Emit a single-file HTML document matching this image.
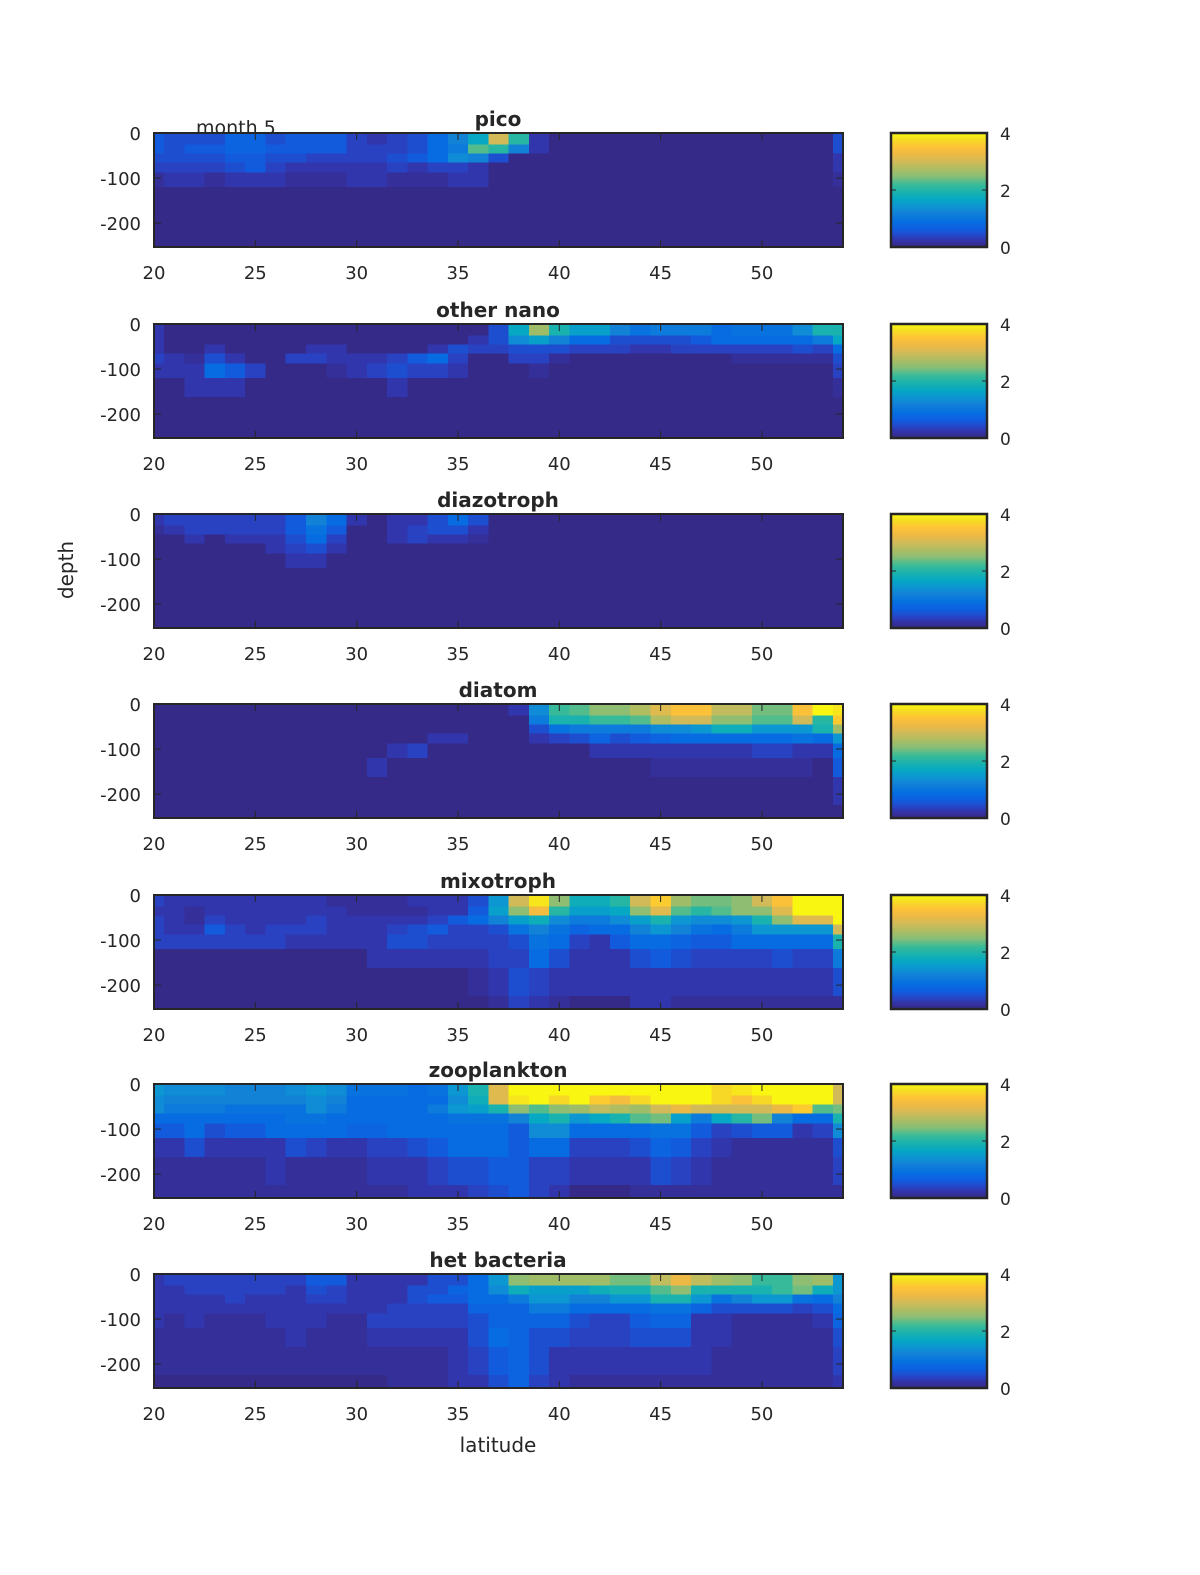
<!DOCTYPE html>
<html><head><meta charset="utf-8"><title>month 5 plankton sections</title>
<style>
html,body{margin:0;padding:0;background:#fff;}
svg{display:block;}
text{font-family:"DejaVu Sans","Liberation Sans",sans-serif;fill:#262626;}
</style></head>
<body>
<svg id="fig" width="1200" height="1575" viewBox="0 0 1200 1575" xmlns="http://www.w3.org/2000/svg">
<defs>
<linearGradient id="parula" x1="0" y1="1" x2="0" y2="0">
<stop offset="0" stop-color="rgb(53,42,135)"/>
<stop offset="0.05" stop-color="rgb(52,50,165)"/>
<stop offset="0.10" stop-color="rgb(38,70,200)"/>
<stop offset="0.16" stop-color="rgb(15,95,225)"/>
<stop offset="0.22" stop-color="rgb(5,110,225)"/>
<stop offset="0.30" stop-color="rgb(18,130,215)"/>
<stop offset="0.36" stop-color="rgb(12,150,210)"/>
<stop offset="0.42" stop-color="rgb(6,168,195)"/>
<stop offset="0.48" stop-color="rgb(25,178,175)"/>
<stop offset="0.55" stop-color="rgb(60,187,150)"/>
<stop offset="0.62" stop-color="rgb(137,190,118)"/>
<stop offset="0.69" stop-color="rgb(176,189,96)"/>
<stop offset="0.75" stop-color="rgb(210,186,89)"/>
<stop offset="0.81" stop-color="rgb(236,185,69)"/>
<stop offset="0.88" stop-color="rgb(254,195,55)"/>
<stop offset="0.94" stop-color="rgb(246,220,35)"/>
<stop offset="1" stop-color="rgb(249,251,14)"/>
</linearGradient>
</defs>
<text x="196" y="134" font-size="19">month 5</text>
<text transform="translate(73,570) rotate(-90)" text-anchor="middle" font-size="20">depth</text>
<text x="498" y="1452" text-anchor="middle" font-size="20">latitude</text>
</svg>
<script>
// ---- data (values: base-36 char * 0.12) ----
const latitudes = [20,21,22,23,24,25,26,27,28,29,30,31,32,33,34,35,36,37,38,39,40,41,42,43,44,45,46,47,48,49,50,51,52,53,54];
const depthEdges = [0,25,45,66,88,120,162,224,253];
const xTicks = [20,25,30,35,40,45,50];
const yTicks = [0,-100,-200];
const cbTicks = [0,2,4];
const panelTitles = ["pico","other nano","diazotroph","diatom","mixotroph","zooplankton","het bacteria"];
const picoRows = [
"54446 64555 32347 aeph2 00000 00000 00004",
"54556 65555 33347 9jha2 00000 00000 00004",
"44445 54433 33457 ba400 00000 00000 00002",
"33334 53222 22323 32000 00000 00000 00002",
"12212 22111 22111 22000 00000 00000 00001",
"00000 00000 00000 00000 00000 00000 00000",
"00000 00000 00000 00000 00000 00000 00000",
"00000 00000 00000 00000 00000 00000 00000"];
const nanoRows = [
"20000 00000 00000 004em gdda8 99978 88bgg",
"20000 00000 00000 024bd a7744 44577 7779e",
"20020 00022 00002 43344 43332 23333 33437",
"32142 00332 22357 30033 10000 00001 11114",
"22275 30001 23433 20001 00000 00000 00003",
"00222 00000 00200 00000 00000 00000 00001",
"00000 00000 00000 00000 00000 00000 00000",
"00000 00000 00000 00000 00000 00000 00000"];
const diazoRows = [
"23333 335a7 20224 74000 00000 00000 00000",
"12333 33585 00234 42000 00000 00000 00000",
"00202 22473 00232 21000 00000 00000 00000",
"00000 02342 00000 00000 00000 00000 00000",
"00000 00220 00000 00000 00000 00000 00000",
"00000 00000 00000 00000 00000 00000 00000",
"00000 00000 00000 00000 00000 00000 00000",
"00000 00000 00000 00000 00000 00000 00000"];
const diatomRows = [
"00000 00000 00000 0002b ijlln qttoo kktxw",
"00000 00000 00000 00009 ggiij nppll jjphu",
"00000 00000 00000 00004 89999 bbcff cccgm",
"00000 00000 00002 20002 34645 67777 7787c",
"00000 00000 00230 00000 00222 22222 33227",
"00000 00000 02000 00000 00000 11111 11105",
"00000 00000 00000 00000 00000 00000 00002",
"00000 00000 00000 00000 00000 00000 00000"];
const mixoRows = [
"32222 22221 11122 24cpw lffhp umkkl ptxxx",
"22122 22222 11112 25dls hddel qjhjl lqxxx",
"32132 22232 22223 57adf b99bd gcbbc glqqx",
"32253 23332 22345 3348a 8677a ca879 ccccp",
"33333 33222 22443 33348 73257 76557 7777g",
"00000 00000 02222 22337 42224 54333 34339",
"00000 00000 00000 01243 22222 22222 22224",
"00000 00000 00000 00132 10002 21111 11111"];
const zooRows = [
"cbbba aabcb 88878 cgqxx xxxxx xxxvw xxxxp",
"baaaa aaaba 77777 bfqwx vxusv xxxvt vxxxp",
"b9998 888b9 77779 cdglj lmonm prppp prujk",
"77777 77887 77777 888ae gcegj kd9eh ka77g",
"55745 57777 66777 7775b b7777 88534 5523b",
"22422 22432 23345 77757 73334 65321 11114",
"11111 12111 12223 44553 32222 43211 11113",
"11111 11111 11122 23453 20001 11111 11111"];
const hetRows = [
"23333 33355 22224 47clm mmmkk oroml iilmc",
"22333 33243 22244 67bfd ddfgg jlggg gikfc",
"22223 22233 22245 5779c caacc ggc8a cc87a",
"22222 22222 22333 36669 97777 88644 44347",
"21211 12221 13333 34666 64335 66221 11126",
"11111 11211 12222 24764 43334 44221 11114",
"11111 11111 11111 23564 22222 22211 11113",
"00000 00000 00111 22463 21111 11111 11112"];
const panelRowStrings = [picoRows, nanoRows, diazoRows, diatomRows, mixoRows, zooRows, hetRows];
const panelValues = panelRowStrings.map(rows => rows.map(s => s.replace(/ /g,'').split('').map(c => parseInt(c,36)*0.12)));

// ---- layout ----
const NS = "http://www.w3.org/2000/svg";
const svg = document.getElementById('fig');
const AX_L = 154, AX_R = 843, AX_H = 114;
const panelTops = [133,324,514,704,895,1084,1274];
const CB_L = 891, CB_R = 987;
const LAT_MIN = 20, LAT_MAX = 54, DEP_MAX = 253, VMAX = 4;
function xScale(lat){ return AX_L + (lat-LAT_MIN)*(AX_R-AX_L)/(LAT_MAX-LAT_MIN); }
function yScale(top, d){ return top + d*AX_H/DEP_MAX; }
const stops = [[0,53,42,135],[0.05,52,50,165],[0.10,38,70,200],[0.16,15,95,225],[0.22,5,110,225],[0.30,18,130,215],[0.36,12,150,210],[0.42,6,168,195],[0.48,25,178,175],[0.55,60,187,150],[0.62,137,190,118],[0.69,176,189,96],[0.75,210,186,89],[0.81,236,185,69],[0.88,254,195,55],[0.94,246,220,35],[1,249,251,14]];
function parula(v){
  let t = Math.max(0, Math.min(1, v/VMAX));
  for (let i=1;i<stops.length;i++){
    if (t <= stops[i][0]){
      const a=stops[i-1], b=stops[i], f=(t-a[0])/(b[0]-a[0]);
      return 'rgb('+Math.round(a[1]+f*(b[1]-a[1]))+','+Math.round(a[2]+f*(b[2]-a[2]))+','+Math.round(a[3]+f*(b[3]-a[3]))+')';
    }
  }
  return 'rgb(249,251,14)';
}
function mk(tag, attrs, parent){
  const e = document.createElementNS(NS, tag);
  for (const k in attrs) e.setAttribute(k, attrs[k]);
  (parent||svg).appendChild(e);
  return e;
}

panelTitles.forEach((title, p) => {
  const top = panelTops[p];
  const g = mk('g', {});
  
  
  const vals = panelValues[p];
  const hm = mk('g', {'shape-rendering':'crispEdges'}, g);
  
  
  vals.forEach((row, r) => {
    row.forEach((v, c) => {
      const lat = latitudes[c];
      const x0 = xScale(Math.max(LAT_MIN, lat-0.5)), x1 = xScale(Math.min(LAT_MAX, lat+0.5));
      const y0 = yScale(top, depthEdges[r]), y1 = yScale(top, depthEdges[r+1]);
      const rc = mk('rect', {x:x0.toFixed(2), y:y0.toFixed(2), width:(x1-x0+0.6).toFixed(2), height:(y1-y0+0.6).toFixed(2), fill:parula(v)}, hm);
      
      
    });
  });
  const box = mk('rect', {x:AX_L, y:top, width:AX_R-AX_L, height:AX_H, fill:'none', stroke:'#262626', 'stroke-width':2}, g);
  
  
  xTicks.forEach(t => {
    const x = xScale(t);
    mk('line', {x1:x, y1:top, x2:x, y2:top+7, stroke:'#262626', 'stroke-width':1}, g);
    mk('line', {x1:x, y1:top+AX_H, x2:x, y2:top+AX_H-7, stroke:'#262626', 'stroke-width':1}, g);
    const tx = mk('text', {x:x, y:top+AX_H+32, 'text-anchor':'middle', 'font-size':18}, g);
    tx.textContent = t;
    
    
  });
  yTicks.forEach(t => {
    const y = yScale(top, -t);
    mk('line', {x1:AX_L, y1:y, x2:AX_L+7, y2:y, stroke:'#262626', 'stroke-width':1}, g);
    mk('line', {x1:AX_R, y1:y, x2:AX_R-7, y2:y, stroke:'#262626', 'stroke-width':1}, g);
    const ty = mk('text', {x:141, y:y+7, 'text-anchor':'end', 'font-size':18}, g);
    ty.textContent = t;
    
    
  });
  const tt = mk('text', {x:498, y:top-7, 'text-anchor':'middle', 'font-size':20, 'font-weight':'bold'}, g);
  tt.textContent = title;
  
  
  const cb = mk('g', {}, g);
  
  
  mk('rect', {x:CB_L, y:top, width:CB_R-CB_L, height:AX_H, fill:'url(#parula)', stroke:'#262626', 'stroke-width':2.5}, cb);
  cbTicks.forEach(t => {
    const y = top + AX_H - t/VMAX*AX_H;
    mk('line', {x1:CB_L, y1:y, x2:CB_L+5, y2:y, stroke:'#262626', 'stroke-width':1}, cb);
    mk('line', {x1:CB_R, y1:y, x2:CB_R-5, y2:y, stroke:'#262626', 'stroke-width':1}, cb);
    const cl = mk('text', {x:1000, y:y+7, 'font-size':17}, cb);
    cl.textContent = t;
    
    
  });
});
</script>
</body></html>
